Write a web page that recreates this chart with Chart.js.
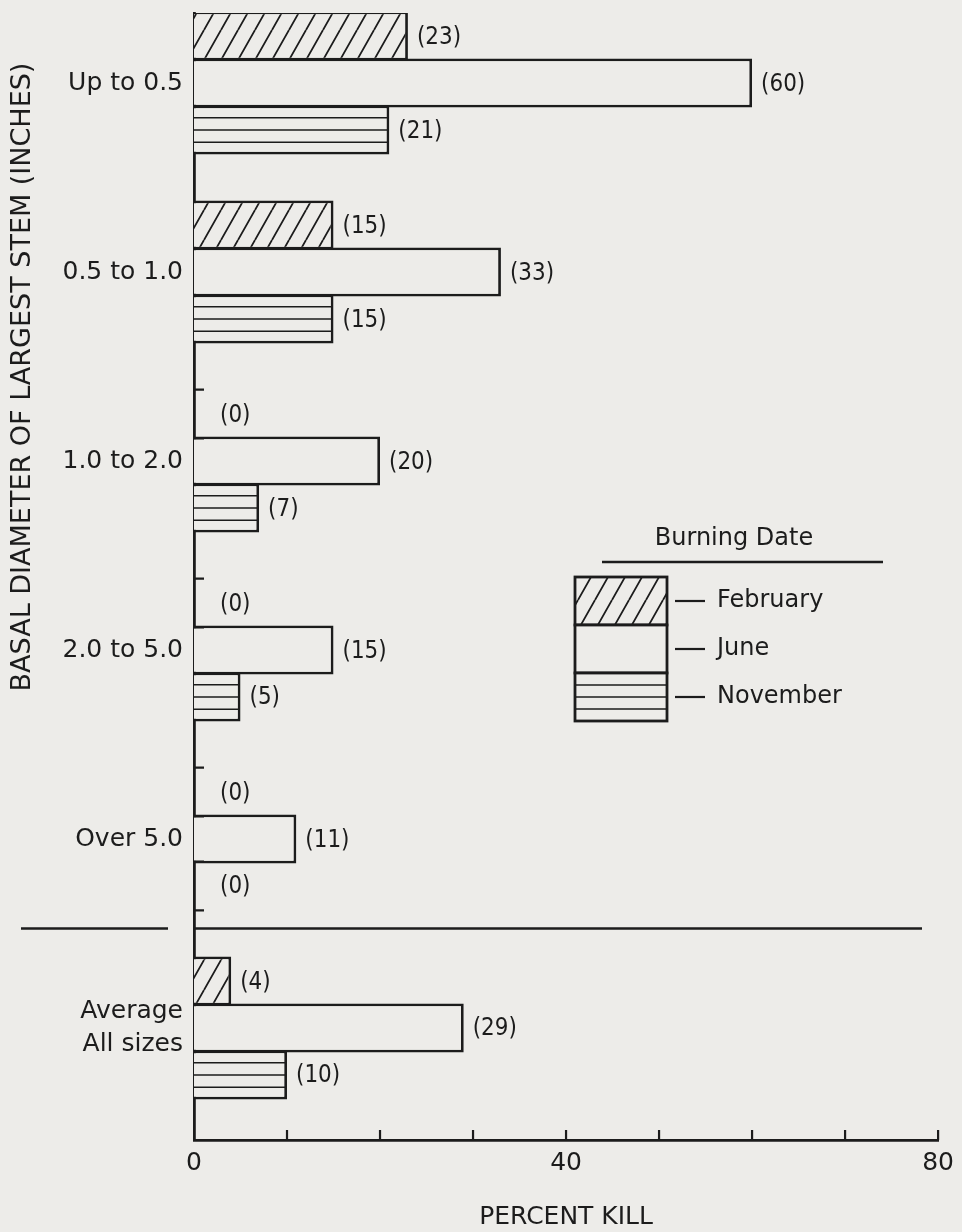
<!DOCTYPE html>
<html>
<head>
<meta charset="utf-8">
<title>Percent kill by stem diameter and burning date</title>
<script src="https://cdn.jsdelivr.net/npm/chart.js@4.4.1/dist/chart.umd.min.js"></script>
<style>
  html, body { margin: 0; padding: 0; background: #edece9; }
  #chart { display: block; }
</style>
</head>
<body>
<canvas id="chart" width="962" height="1232"></canvas>
<script>
var categories = ['Up to 0.5', '0.5 to 1.0', '1.0 to 2.0', '2.0 to 5.0', 'Over 5.0', 'Average\nAll sizes'];
var seriesNames = ['February', 'June', 'November'];
var february = [23, 15, 0, 0, 0, 4];
var june = [60, 33, 20, 15, 11, 29];
var november = [21, 15, 7, 5, 0, 10];
var xLabelTicks = [0, 40, 80];

var PAPER = '#edece9';
var INK = '#1c1c1c';
var FONT = "'DejaVu Sans', sans-serif";
var BORDER = 2.8;

var canvas = document.getElementById('chart');
var mainCtx = canvas.getContext('2d');

// diagonal hatch used for February
function makeHatch() {
    var tile = document.createElement('canvas');
    tile.width = 17;
    tile.height = 30;
    var c = tile.getContext('2d');
    c.fillStyle = PAPER;
    c.fillRect(0, 0, 17, 30);
    c.strokeStyle = INK;
    c.lineWidth = 1.8;
    c.beginPath();
    [-17, 0, 17].forEach(function(dx) {
        c.moveTo(dx, 30);
        c.lineTo(dx + 17, 0);
    });
    c.stroke();
    return mainCtx.createPattern(tile, 'repeat');
}
var hatch = makeHatch();

function toPoints(vals) {
    return vals.map(function(v, i) { return { x: v, y: i }; });
}

// three horizontal rules across a box (November)
function stripes(ctx, x0, x1, top, h) {
    ctx.beginPath();
    for (var k = 1; k <= 3; k++) {
        var yy = top + h * k / 4;
        ctx.moveTo(x0, yy);
        ctx.lineTo(x1, yy);
    }
    ctx.stroke();
}

var decorations = {
    id: 'decorations',
    afterDatasetsDraw: function(chart) {
        var ctx = chart.ctx;
        var all = [february, june, november];
        ctx.save();
        ctx.strokeStyle = INK;
        all.forEach(function(vals, i) {
            var meta = chart.getDatasetMeta(i);
            meta.data.forEach(function(bar, j) {
                var p = bar.getProps(['x', 'y', 'base', 'height'], true);
                var top = p.y - p.height / 2;
                var v = vals[j];
                if (i === 2 && v > 0) {
                    ctx.lineWidth = 1.6;
                    stripes(ctx, p.base, p.x - 1, top, p.height);
                }
                if (v === 0) {
                    ctx.lineWidth = 2.2;
                    ctx.beginPath();
                    ctx.moveTo(p.base, top);
                    ctx.lineTo(p.base + 10, top);
                    ctx.moveTo(p.base, top + p.height);
                    ctx.lineTo(p.base + 10, top + p.height);
                    ctx.stroke();
                }
                // value label
                var tx = v > 0 ? p.x + 9 : p.base + 26;
                ctx.save();
                ctx.translate(tx, p.y + 1);
                ctx.scale(0.86, 1);
                ctx.fillStyle = INK;
                ctx.font = '25px ' + FONT;
                ctx.textAlign = 'left';
                ctx.textBaseline = 'middle';
                ctx.fillText('(' + v + ')', 0, 0);
                ctx.restore();
            });
        });
        ctx.restore();
    },
    afterDraw: function(chart) {
        var ctx = chart.ctx;
        var area = chart.chartArea;
        var xs = chart.scales.x;
        var ys = chart.scales.y;

        ctx.save();
        ctx.strokeStyle = INK;

        // inner tick marks on the x axis
        ctx.lineWidth = 2.2;
        ctx.beginPath();
        xs.ticks.forEach(function(t) {
            if (t.value === 0) return;
            var px = xs.getPixelForValue(t.value);
            ctx.moveTo(px, area.bottom);
            ctx.lineTo(px, area.bottom - 10);
        });
        ctx.stroke();

        // rule separating the average from the size classes
        var sy = ys.getPixelForValue(4.5) - 5;
        ctx.lineWidth = 2.6;
        ctx.beginPath();
        ctx.moveTo(21, sy);
        ctx.lineTo(168, sy);
        ctx.moveTo(area.left, sy);
        ctx.lineTo(922, sy);
        ctx.stroke();

        // y axis title
        ctx.save();
        ctx.translate(23, 377);
        ctx.rotate(-Math.PI / 2);
        ctx.fillStyle = INK;
        ctx.font = '27px ' + FONT;
        ctx.textAlign = 'center';
        ctx.textBaseline = 'middle';
        ctx.fillText('BASAL DIAMETER OF LARGEST STEM (INCHES)', 0, 0);
        ctx.restore();

        // legend
        ctx.fillStyle = INK;
        ctx.font = '24px ' + FONT;
        ctx.textAlign = 'center';
        ctx.textBaseline = 'middle';
        ctx.fillText('Burning Date', 734, 539);
        ctx.lineWidth = 2.6;
        ctx.beginPath();
        ctx.moveTo(602, 562);
        ctx.lineTo(883, 562);
        ctx.stroke();

        var lx = 575, lw = 92, rowTop = 577, rowH = 48;
        seriesNames.forEach(function(name, i) {
            var top = rowTop + i * rowH;
            ctx.fillStyle = i === 0 ? hatch : PAPER;
            ctx.fillRect(lx, top, lw, rowH);
            if (i === 2) {
                ctx.lineWidth = 1.6;
                stripes(ctx, lx, lx + lw, top, rowH);
            }
            ctx.lineWidth = 2.8;
            ctx.strokeRect(lx, top, lw, rowH);
            ctx.lineWidth = 2.2;
            ctx.beginPath();
            ctx.moveTo(lx + lw + 8, top + rowH / 2);
            ctx.lineTo(lx + lw + 38, top + rowH / 2);
            ctx.stroke();
            ctx.fillStyle = INK;
            ctx.textAlign = 'left';
            ctx.fillText(name, lx + lw + 50, top + rowH / 2);
        });
        ctx.restore();
    }
};

var chart = new Chart(canvas, {
    type: 'bar',
    data: {
        datasets: [
            { label: seriesNames[0], data: toPoints(february), backgroundColor: hatch },
            { label: seriesNames[1], data: toPoints(june), backgroundColor: PAPER },
            { label: seriesNames[2], data: toPoints(november), backgroundColor: PAPER }
        ]
    },
    options: {
        indexAxis: 'y',
        responsive: false,
        animation: false,
        events: [],
        layout: { padding: { top: 13, right: 14, left: 0, bottom: 0 } },
        datasets: {
            bar: {
                categoryPercentage: 0.746,
                barPercentage: 1.04,
                borderColor: INK,
                borderWidth: function(c) { return c.parsed && c.parsed.x === 0 ? 0 : BORDER; },
                borderSkipped: 'start'
            }
        },
        scales: {
            y: {
                type: 'linear',
                reverse: true,
                offset: false,
                min: -0.3704,
                max: 5.5926,
                afterBuildTicks: function(axis) {
                    axis.ticks = categories.map(function(c, i) { return { value: i }; });
                },
                afterFit: function(axis) {
                    axis.width = 194;
                    axis.paddingTop = 0;
                    axis.paddingBottom = 0;
                },
                grid: { display: false, drawTicks: false },
                border: { display: true, color: INK, width: BORDER },
                ticks: {
                    padding: 11,
                    color: INK,
                    font: { family: FONT, size: 25, lineHeight: 1.35 },
                    callback: function(value) {
                        var label = categories[value];
                        return label === undefined ? null : label.split('\n');
                    }
                }
            },
            x: {
                type: 'linear',
                min: 0,
                max: 80,
                afterFit: function(axis) { axis.height = 92; },
                grid: { display: false, drawTicks: false },
                border: { display: true, color: INK, width: BORDER },
                ticks: {
                    stepSize: 10,
                    padding: 8,
                    maxRotation: 0,
                    autoSkip: false,
                    color: INK,
                    font: { family: FONT, size: 25 },
                    callback: function(value) {
                        return xLabelTicks.indexOf(value) >= 0 ? String(value) : '';
                    }
                },
                title: {
                    display: true,
                    text: 'PERCENT KILL',
                    color: INK,
                    font: { family: FONT, size: 25 },
                    padding: { top: 0, bottom: 0 }
                }
            }
        },
        plugins: {
            legend: { display: false },
            tooltip: { enabled: false }
        }
    },
    plugins: [decorations]
});
</script>
</body>
</html>
